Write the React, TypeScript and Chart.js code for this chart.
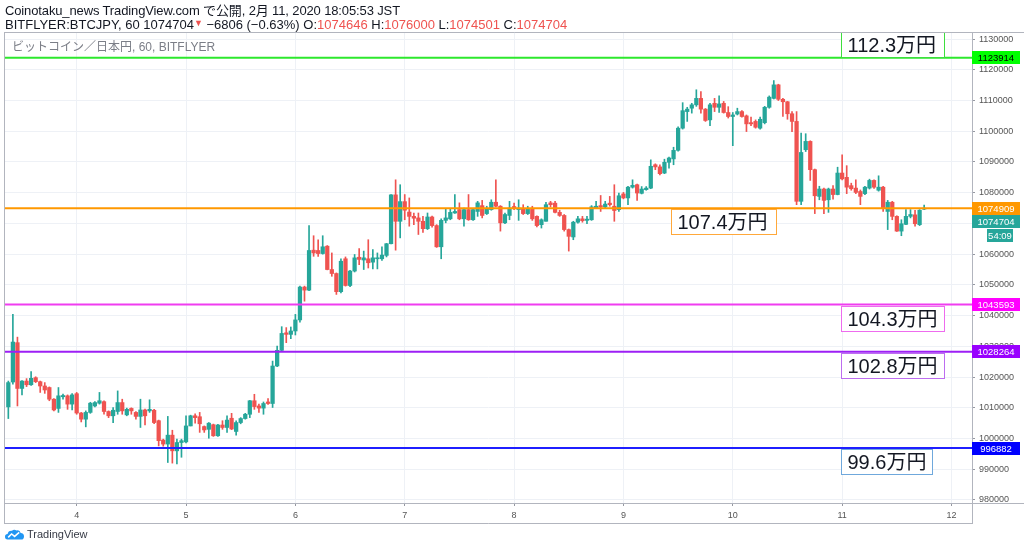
import React, { useEffect, useRef } from "react";
import { Chart, registerables } from "chart.js";

Chart.register(...registerables);

// ---------------- data ----------------
// hourly candles, hour index relative to Feb 4 00:00 JST; first candle = Feb 3 09:00
const START_HOUR = -15;

const OPEN = [
  1010300, 1018400, 1031200, 1016300, 1018700, 1017500, 1019800, 1018500, 1017100, 1016600, 1012800, 1009800,
  1013600, 1013900, 1011200, 1014600, 1008300, 1006300, 1008500, 1010600, 1011500, 1012000, 1008800, 1007400,
  1008800, 1011700, 1007700, 1009800, 1008500, 1007200, 1009300, 1009000, 1009200, 1005800, 999500, 998200,
  1001100, 996000, 998700, 998900, 1004100, 1007400, 1007100, 1003900, 1003000, 1004500, 1000900,
  1004400, 1003600, 1006600, 1002300, 1005200, 1006500, 1007900, 1012300, 1010600, 1009900, 1011900,
  1011400, 1023600, 1028700, 1034400, 1033900, 1035000, 1038600, 1049300, 1048300, 1061300, 1061200,
  1060200, 1062600, 1055000, 1053700, 1047800, 1058500, 1049800, 1054500, 1059000, 1058100, 1058500,
  1057400, 1058500, 1058500, 1059600, 1063400, 1079300, 1070700, 1077100, 1073700, 1072300, 1071800,
  1070700, 1068300, 1072100, 1069300, 1062400, 1071000, 1071500, 1073400, 1074500,
  1071500, 1074500, 1071200, 1073900, 1075800, 1073200, 1074500, 1076900, 1075600, 1070200,
  1072600, 1075500, 1074500, 1074700, 1073200, 1074700, 1072300, 1069600, 1070700, 1076700,
  1076600, 1073600, 1072600, 1068000, 1065600, 1070400, 1071500, 1071000, 1071200, 1075000,
  1075800, 1075400, 1076600, 1075600, 1074500, 1079600, 1078300, 1081800, 1082600, 1079800,
  1081000, 1081500, 1089100, 1088400, 1086400, 1089900, 1091000, 1093800, 1101000, 1106400,
  1107500, 1108600, 1110700, 1107200, 1103700, 1109100, 1107800, 1109100, 1106100, 1104800,
  1105600, 1106400, 1105000, 1102800, 1103200, 1101000, 1102800, 1107800, 1110700, 1115100,
  1110400, 1109600, 1105700, 1103200, 1077200, 1094000, 1096700, 1087500, 1078800, 1081200,
  1077700, 1081200, 1079400, 1086400, 1085000, 1082300, 1081500, 1080400, 1079700, 1081500,
  1084000, 1080800, 1081800, 1073900, 1076900, 1072300, 1067500, 1069700, 1072300, 1072800,
  1069600, 1074646,
];

const HIGH = [
  1018700, 1040400, 1033000, 1018900, 1019500, 1021800, 1020100, 1018700, 1018200, 1016800, 1013000, 1016600,
  1014500, 1014200, 1014600, 1015000, 1008500, 1009000, 1011800, 1012000, 1015000, 1012300, 1009000, 1010100,
  1015500, 1012800, 1009900, 1010000, 1008800, 1012800, 1009600, 1012600, 1009500, 1006000, 999800, 1007200,
  1002700, 999800, 999800, 1007400, 1007600, 1008000, 1008500, 1004100, 1005200, 1004700, 1004600,
  1005800, 1007400, 1008200, 1005800, 1006800, 1008200, 1012400, 1014400, 1011200, 1011900, 1013000,
  1025200, 1030100, 1036400, 1036100, 1036300, 1040400, 1049600, 1049600, 1069300, 1066000, 1064700,
  1066000, 1062800, 1060400, 1053900, 1058500, 1059100, 1054700, 1059900, 1061800, 1061000, 1064700,
  1061500, 1060400, 1062400, 1063500, 1079400, 1084200, 1082600, 1079400, 1078300, 1073400, 1073400,
  1072300, 1073400, 1072400, 1069600, 1071500, 1074700, 1074700, 1079400, 1076700,
  1075000, 1079400, 1074700, 1077200, 1077500, 1075600, 1077700, 1084200, 1075800, 1073400,
  1077200, 1076600, 1077700, 1076100, 1075600, 1075600, 1072500, 1071500, 1076900, 1077200,
  1077200, 1074300, 1072900, 1068200, 1070700, 1072300, 1072300, 1072300, 1075800, 1077200,
  1079100, 1077200, 1078800, 1082600, 1079900, 1080100, 1082100, 1084200, 1082800, 1082000,
  1082000, 1090700, 1089400, 1089100, 1090900, 1091600, 1094800, 1101400, 1109300, 1107800,
  1109100, 1113500, 1112900, 1107400, 1109100, 1110700, 1111500, 1109700, 1108000, 1106100,
  1107500, 1106700, 1105300, 1104600, 1103700, 1104600, 1108100, 1111500, 1116500, 1115300,
  1110700, 1109700, 1106400, 1106400, 1099400, 1099200, 1096900, 1087700, 1082100, 1081500,
  1081500, 1082300, 1088300, 1092300, 1088800, 1083100, 1084200, 1080900, 1082100, 1084400,
  1084200, 1085500, 1082100, 1077500, 1077200, 1072500, 1071200, 1074500, 1074500, 1074300,
  1074500, 1076000,
];

const LOW = [
  1006500, 1017700, 1010600, 1014200, 1016900, 1017300, 1018200, 1015000, 1014700, 1012300, 1009000, 1008500,
  1012800, 1009500, 1009300, 1007900, 1005400, 1003800, 1008200, 1010300, 1011200, 1007900, 1006800, 1005200,
  1007900, 1007900, 1007400, 1007900, 1006300, 1003600, 1004400, 1008500, 1004800, 997600, 997500, 992200,
  992000, 991700, 993900, 998600, 1004100, 1005000, 1002000, 1002000, 1000100, 1000700, 1000700,
  1003000, 1002000, 1002900, 1001100, 1004800, 1006300, 1006800, 1009500, 1008500, 1007900, 1011100,
  1010100, 1023400, 1028300, 1031200, 1032500, 1033700, 1037900, 1044700, 1048100, 1059300, 1059300,
  1060000, 1054900, 1052800, 1046900, 1047400, 1049600, 1049400, 1054200, 1056600, 1055000, 1055500,
  1055200, 1055200, 1058000, 1059100, 1063300, 1061300, 1065300, 1071200, 1069100, 1069600, 1066400,
  1067100, 1068000, 1068800, 1062200, 1058500, 1070200, 1071200, 1073300, 1071200,
  1069100, 1071000, 1071000, 1072300, 1071800, 1072900, 1074300, 1075400, 1067500, 1069900,
  1071200, 1074500, 1071000, 1072900, 1072900, 1071000, 1068900, 1068500, 1070700, 1075400,
  1073400, 1072300, 1067500, 1061000, 1064700, 1070100, 1070400, 1069900, 1071000, 1074900,
  1073900, 1075000, 1075600, 1070700, 1073900, 1078000, 1076100, 1081500, 1077500, 1079600,
  1080800, 1081300, 1087500, 1085800, 1086200, 1088000, 1089100, 1093500, 1100700, 1103200,
  1105900, 1108100, 1105900, 1103200, 1101800, 1106400, 1106100, 1105900, 1104300, 1095300,
  1105300, 1104600, 1099900, 1101800, 1101000, 1100700, 1102400, 1107500, 1110500, 1110000,
  1104800, 1103900, 1099900, 1076100, 1076100, 1093400, 1084000, 1073200, 1077700, 1073200,
  1073600, 1077900, 1079300, 1084200, 1079700, 1080800, 1079700, 1076100, 1079400, 1081200,
  1081400, 1080500, 1073900, 1068000, 1071200, 1067400, 1066000, 1069600, 1071800, 1069100,
  1069300, 1074501,
];

const CLOSE = [
  1018200, 1031400, 1016300, 1018700, 1017500, 1019600, 1018500, 1017100, 1015800, 1012800, 1009300, 1013900,
  1014000, 1011200, 1014200, 1008300, 1006300, 1008500, 1011500, 1011700, 1012300, 1008800, 1007400, 1009200,
  1011700, 1009000, 1009500, 1009000, 1007200, 1009300, 1007400, 1009500, 1005200, 999300, 998200, 1001100,
  996000, 998700, 999300, 1004100, 1007400, 1006800, 1004800, 1002800, 1005000, 1000900, 1004400,
  1003600, 1006000, 1003100, 1005200, 1006500, 1007900, 1012300, 1010400, 1009900, 1011400, 1011400,
  1023600, 1028700, 1034200, 1033900, 1035000, 1038600, 1049300, 1048300, 1061200, 1060400, 1060200,
  1062400, 1055000, 1053700, 1047800, 1057700, 1049800, 1054500, 1058800, 1058300, 1058800, 1057200,
  1058800, 1058800, 1059700, 1063400, 1079300, 1070700, 1077100, 1074300, 1072300, 1071700, 1070700,
  1068300, 1072100, 1069300, 1062400, 1071000, 1071800, 1073600, 1073900, 1071500,
  1074500, 1071200, 1074500, 1076700, 1072600, 1074700, 1076900, 1075600, 1070200, 1072900,
  1075000, 1074900, 1075000, 1073200, 1074700, 1071500, 1069300, 1071200, 1076100, 1076100,
  1073600, 1072600, 1068000, 1065800, 1070400, 1071500, 1070900, 1071400, 1075400, 1075600,
  1075400, 1076300, 1076100, 1074200, 1079000, 1078300, 1081800, 1082400, 1079900, 1081200,
  1081500, 1088600, 1088400, 1086200, 1089900, 1091300, 1093800, 1101000, 1106700, 1107200,
  1108600, 1110700, 1107200, 1103500, 1108600, 1107800, 1108900, 1106100, 1104800, 1105300,
  1106400, 1104800, 1102400, 1102400, 1101300, 1103900, 1107800, 1111100, 1115100, 1110400,
  1109600, 1105700, 1103200, 1077200, 1093100, 1096700, 1087500, 1079000, 1081200, 1077500,
  1081200, 1079400, 1086400, 1084500, 1081800, 1081300, 1080100, 1078800, 1081800, 1084000,
  1081800, 1081800, 1075000, 1076900, 1072300, 1067500, 1069900, 1072300, 1072900, 1069900,
  1074300, 1074704,
];

const DAY_TICKS = [0, 24, 48, 72, 96, 120, 144, 168, 192];
const DAY_LABELS = ["4", "5", "6", "7", "8", "9", "10", "11", "12"];
const PRICE_TICKS = [
  980000, 990000, 1000000, 1010000, 1020000, 1030000, 1040000, 1050000,
  1060000, 1070000, 1080000, 1090000, 1100000, 1110000, 1120000, 1130000,
];

const LEVELS = [1123914, 1074909, 1043593, 1028264, 996882];
const NOTE_TEXTS = ["112.3万円", "107.4万円", "104.3万円", "102.8万円", "99.6万円"];
const NOTE_FROM = [167.66, 130.4, 167.66, 167.66, 167.66];
const NOTE_TO = [190.3, 153.45, 190.3, 190.3, 187.7];
const NOTE_ABOVE = [true, false, false, false, false];

const COUNTDOWN = "54:09";
const HEADER_TITLE = "Coinotaku_news TradingView.com で公開, 2月 11, 2020 18:05:53 JST";
const SYMBOL_TEXT = "BITFLYER:BTCJPY, 60";
const CHANGE_TEXT = "−6806 (−0.63%)";
const LEGEND_TEXT = "ビットコイン／日本円, 60, BITFLYER";

// ---------------- styles ----------------
const X_MIN = -15.73;
const X_MAX = 196.5;
const Y_MIN = 979020;
const Y_MAX = 1132300;
const UP = "#26a69a";
const DOWN = "#ef5350";
const LEVEL_LINE = ["#2de82d", "#ff9800", "#f03cf0", "#9d1ff5", "#1f1fff"];
const LEVEL_TAG = ["#00ff00", "#ff9800", "#ff00ff", "#9900ff", "#0000ff"];
const LEVEL_TAG_TEXT = ["#000000", "#ffffff", "#ffffff", "#ffffff", "#ffffff"];
const NOTE_BORDER = ["#3ede3e", "#ffa83a", "#ee6bee", "#bd6df0", "#6fa8dc"];
const FRAME = "#b2b5be";
const SANS = '"Liberation Sans", Arial, "Noto Sans CJK JP", sans-serif';

const N = Math.min(OPEN.length, HIGH.length, LOW.length, CLOSE.length);
const LAST_O = OPEN[N - 1];
const LAST_H = HIGH[N - 1];
const LAST_L = LOW[N - 1];
const LAST_C = CLOSE[N - 1];

const overlay = {
  id: "overlay",
  afterDatasetsDraw(chart: any) {
    const { ctx, scales } = chart;
    const x = scales.x;
    const y = scales.y;
    ctx.save();
    ctx.font = `20px ${SANS}`;
    ctx.textBaseline = "middle";
    ctx.textAlign = "left";
    NOTE_TEXTS.forEach((t, k) => {
      const ly = Math.round(y.getPixelForValue(LEVELS[k]));
      const x0 = Math.round(x.getPixelForValue(NOTE_FROM[k])) + 0.5;
      const x1 = Math.round(x.getPixelForValue(NOTE_TO[k])) + 0.5;
      const h = 25;
      const top = NOTE_ABOVE[k] ? ly - h - 1 : ly + 1;
      ctx.fillStyle = "#ffffff";
      ctx.fillRect(x0, top + 0.5, x1 - x0, h);
      ctx.strokeStyle = NOTE_BORDER[k];
      ctx.lineWidth = 1;
      ctx.strokeRect(x0, top + 0.5, x1 - x0, h);
      ctx.fillStyle = "#131722";
      ctx.fillText(t, x0 + 6, top + h / 2 + 1.5);
    });
    ctx.restore();
  },
  afterDraw(chart: any) {
    const { ctx, chartArea: a, scales } = chart;
    const y = scales.y;
    const W = chart.width;
    ctx.save();
    // widget frame
    ctx.strokeStyle = FRAME;
    ctx.lineWidth = 1;
    ctx.beginPath();
    ctx.moveTo(a.left - 0.5, a.top + 0.5);
    ctx.lineTo(W, a.top + 0.5);
    ctx.moveTo(a.left - 0.5, a.top);
    ctx.lineTo(a.left - 0.5, a.bottom + 21);
    ctx.moveTo(a.left - 0.5, a.bottom + 20.5);
    ctx.lineTo(a.right, a.bottom + 20.5);
    ctx.moveTo(a.right + 0.5, a.top);
    ctx.lineTo(a.right + 0.5, a.bottom + 21);
    ctx.moveTo(a.right, a.bottom + 0.5);
    ctx.lineTo(W, a.bottom + 0.5);
    ctx.stroke();

    // price tags on the axis
    ctx.font = `9.5px ${SANS}`;
    ctx.textAlign = "center";
    ctx.textBaseline = "middle";
    const tag = (cy: number, bg: string, fg: string, text: string, x0: number, w: number) => {
      const t = Math.round(cy - 6.5);
      ctx.fillStyle = bg;
      ctx.fillRect(x0, t, w, 13);
      ctx.fillStyle = fg;
      ctx.fillText(text, x0 + w / 2, t + 7);
    };
    LEVELS.forEach((v, k) => {
      tag(y.getPixelForValue(v), LEVEL_TAG[k], LEVEL_TAG_TEXT[k], String(v), a.right, 48);
    });
    const refY = y.getPixelForValue(LEVELS[1]);
    const lastY = Math.max(y.getPixelForValue(LAST_C), refY + 13.5);
    tag(lastY, LAST_C >= LAST_O ? UP : DOWN, "#ffffff", String(LAST_C), a.right, 48);
    tag(lastY + 13.5, LAST_C >= LAST_O ? UP : DOWN, "#ffffff", COUNTDOWN, a.right + 15, 26);
    ctx.restore();
  },
};

function Logo() {
  return (
    <svg width="19" height="11" viewBox="0 0 19 11" style={{ display: "block" }}>
      <path
        d="M2.5 10.5 Q0 10.5 0 7.8 Q0 5.2 2.6 5.1 Q3.2 1.3 7 1.7 Q9 -0.2 11.6 1.6 Q14.6 0.6 15.7 3.9 Q19 4.3 19 7.4 Q19 10.5 16.2 10.5 Z"
        fill="#2196f3"
      />
      <polyline points="3.2,8.4 6.6,5 9.6,7.4 14.2,3.4" fill="none" stroke="#ffffff" strokeWidth="1.5" />
    </svg>
  );
}

export default function App() {
  const ref = useRef<HTMLCanvasElement>(null);

  useEffect(() => {
    document.body.style.margin = "0";
    const hours = OPEN.slice(0, N).map((_, k) => START_HOUR + k);
    const colors = hours.map((_, k) => (CLOSE[k] >= OPEN[k] ? UP : DOWN));
    const wicks = hours.map((h, k) => ({ x: h, y: [LOW[k], HIGH[k]] }));
    const bodies = hours.map((h, k) => ({ x: h, y: [OPEN[k], CLOSE[k]] }));
    const levelSets = LEVELS.map((v, k) => ({
      type: "line" as const,
      data: [
        { x: X_MIN, y: v },
        { x: X_MAX, y: v },
      ],
      borderColor: LEVEL_LINE[k],
      borderWidth: 2,
      pointRadius: 0,
      fill: false,
      order: 0,
    }));

    const chart = new Chart(ref.current as HTMLCanvasElement, {
      type: "bar",
      data: {
        datasets: [
          {
            type: "bar",
            data: wicks as any,
            backgroundColor: colors,
            borderWidth: 0,
            barThickness: 1,
            grouped: false,
            order: 3,
          } as any,
          {
            type: "bar",
            data: bodies as any,
            backgroundColor: colors,
            borderWidth: 0,
            barThickness: 3.6,
            minBarLength: 1,
            grouped: false,
            order: 2,
          } as any,
          ...(levelSets as any),
        ],
      },
      options: {
        responsive: false,
        animation: false,
        events: [],
        layout: { padding: { left: 5, top: 32, right: 0, bottom: 29 } },
        plugins: {
          legend: { display: false },
          tooltip: { enabled: false },
        },
        scales: {
          x: {
            type: "linear",
            min: X_MIN,
            max: X_MAX,
            offset: false,
            grid: {
              offset: false,
              color: "#eef1f6",
              tickColor: "#9598a1",
              tickLength: 3,
              drawTicks: true,
            },
            border: { display: true, color: FRAME },
            ticks: {
              autoSkip: false,
              maxRotation: 0,
              padding: 4,
              color: "#555555",
              font: { family: SANS, size: 9 },
              callback: (_v: any, i: number) => DAY_LABELS[i],
            },
            afterBuildTicks: (axis: any) => {
              axis.ticks = DAY_TICKS.map((v) => ({ value: v }));
            },
            afterFit: (axis: any) => {
              axis.height = 20;
            },
          },
          y: {
            type: "linear",
            position: "right",
            min: Y_MIN,
            max: Y_MAX,
            beginAtZero: false,
            grid: {
              color: "#eef1f6",
              tickColor: "#9598a1",
              tickLength: 3,
              drawTicks: true,
            },
            border: { display: true, color: FRAME },
            ticks: {
              autoSkip: false,
              padding: 4,
              color: "#555555",
              font: { family: SANS, size: 9 },
              callback: (v: any) => String(v),
            },
            afterBuildTicks: (axis: any) => {
              axis.ticks = PRICE_TICKS.map((v) => ({ value: v }));
            },
            afterFit: (axis: any) => {
              axis.width = 52;
            },
          },
        },
      } as any,
      plugins: [overlay],
    });
    return () => chart.destroy();
  }, []);

  const red = { color: "#ef5350" };
  return (
    <div style={{ position: "relative", width: 1024, height: 552, overflow: "hidden", background: "#ffffff" }}>
      <canvas
        ref={ref}
        width={1024}
        height={552}
        style={{ position: "absolute", left: 0, top: 0, width: 1024, height: 552 }}
      />
      <div
        style={{
          position: "absolute",
          left: 5,
          top: 3,
          font: `13px ${SANS}`,
          lineHeight: "15px",
          letterSpacing: "-0.13px",
          color: "#131722",
          whiteSpace: "nowrap",
        }}
      >
        {HEADER_TITLE}
      </div>
      <div
        style={{
          position: "absolute",
          left: 5,
          top: 16,
          font: `13px ${SANS}`,
          lineHeight: "15px",
          color: "#131722",
          whiteSpace: "nowrap",
        }}
      >
        {SYMBOL_TEXT} {LAST_C}
        <span style={{ ...red, fontSize: 9, verticalAlign: 3 }}>▼</span> {CHANGE_TEXT} O:
        <span style={red}>{LAST_O}</span> H:<span style={red}>{LAST_H}</span> L:
        <span style={red}>{LAST_L}</span> C:<span style={red}>{LAST_C}</span>
      </div>
      <div
        style={{
          position: "absolute",
          left: 12,
          top: 40,
          font: `12px ${SANS}`,
          lineHeight: "14px",
          color: "#7b7e87",
          whiteSpace: "nowrap",
        }}
      >
        {LEGEND_TEXT}
      </div>
      <div style={{ position: "absolute", left: 5, top: 528, display: "flex", alignItems: "center" }}>
        <Logo />
        <span
          style={{
            marginLeft: 3,
            font: `11px ${SANS}`,
            lineHeight: "12px",
            color: "#363a45",
          }}
        >
          TradingView
        </span>
      </div>
    </div>
  );
}
